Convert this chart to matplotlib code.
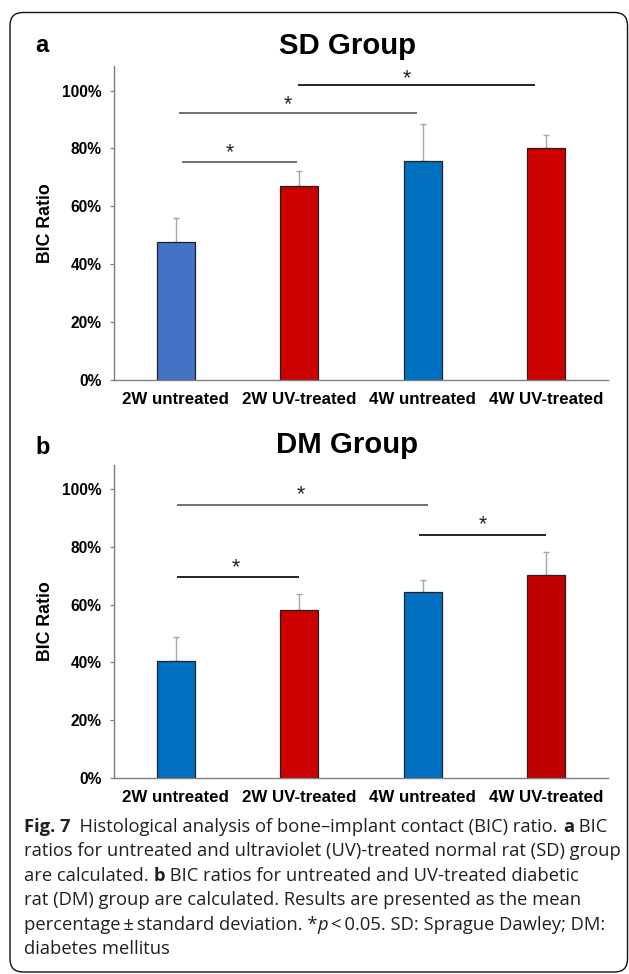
import matplotlib
matplotlib.use("Agg")
import matplotlib.pyplot as plt
from matplotlib.patches import FancyBboxPatch
from matplotlib.transforms import IdentityTransform
from matplotlib.ticker import FuncFormatter

# ---------------- data ----------------
categories = ["2W untreated", "2W UV-treated", "4W untreated", "4W UV-treated"]

sd_means = [47.8, 67.0, 75.6, 80.0]
sd_err = [8.3, 5.1, 12.9, 4.8]
sd_colors = ["#4472C4", "#CC0000", "#0070C0", "#CC0000"]

dm_means = [40.4, 58.2, 64.3, 70.3]
dm_err = [8.2, 5.6, 4.3, 8.1]
dm_colors = ["#0070C0", "#CC0000", "#0070C0", "#C00000"]

# significance lines
sd_sig_x0 = [0.05, 0.03, 0.99]
sd_sig_x1 = [0.98, 1.95, 2.91]
sd_sig_y = [75.3, 92.2, 101.9]
sd_star_x = [0.44, 0.91, 1.87]
sd_star_y = [78.5, 95.1, 104.2]
sd_sig_col = ["#595959", "#595959", "#000000"]

dm_sig_x0 = [0.01, 0.01, 1.97]
dm_sig_x1 = [1.00, 2.04, 3.00]
dm_sig_y = [69.6, 94.5, 84.1]
dm_star_x = [0.49, 1.01, 2.49]
dm_star_y = [72.7, 98.0, 87.7]
dm_sig_col = ["#000000", "#595959", "#000000"]

yticks = [0, 20, 40, 60, 80, 100]

W, H = 629, 974
fig = plt.figure(figsize=(W / 100, H / 100), dpi=100)

ARIAL = "Liberation Sans"


def panel(rect, means, errs, colors, x0s, x1s, ys, sxs, sys_, cols, title, letter, title_y, letter_y):
    ax = fig.add_axes(rect)
    xs = list(range(len(categories)))
    ax.bar(xs, means, width=0.31, color=colors, edgecolor="#222222", linewidth=0.9, zorder=2)
    ax.errorbar(xs, means, yerr=[[0] * len(errs), errs], fmt="none", ecolor="#a6a6a6",
                elinewidth=1.0, capsize=2.2, capthick=1.0, zorder=1)
    for a, b, y, sx, sy, c in zip(x0s, x1s, ys, sxs, sys_, cols):
        ax.plot([a, b], [y, y], color=c, linewidth=1.2, solid_capstyle="butt", zorder=3)
        ax.text(sx, sy, "*", ha="center", va="center", fontsize=15.5, family=ARIAL, color="#222222")
    ax.set_xlim(-0.5, 3.5)
    ax.set_ylim(0, 108.5)
    ax.set_yticks(yticks)
    ax.yaxis.set_major_formatter(FuncFormatter(lambda v, p: f"{int(v)}%"))
    ax.set_xticks(xs)
    ax.set_xticklabels(categories)
    for lab in ax.get_xticklabels() + ax.get_yticklabels():
        lab.set_family(ARIAL)
        lab.set_fontweight("bold")
    for lab in ax.get_xticklabels():
        lab.set_fontsize(12.2)
    for lab in ax.get_yticklabels():
        lab.set_fontsize(11.2)
    ax.tick_params(axis="x", length=0, pad=9)
    ax.tick_params(axis="y", length=3, width=0.9, color="#7f7f7f", pad=6)
    for s in ["top", "right"]:
        ax.spines[s].set_visible(False)
    for s in ["left", "bottom"]:
        ax.spines[s].set_color("#7f7f7f")
        ax.spines[s].set_linewidth(1.0)
    ax.set_ylabel("BIC Ratio", family=ARIAL, fontweight="bold", fontsize=12.8)
    ax.yaxis.set_label_coords(-0.122, 0.5)
    fig.text(347 / W, 1 - title_y / H, title, ha="center", va="center", family=ARIAL,
             fontweight="bold", fontsize=21.2)
    fig.text(35 / W, 1 - letter_y / H, letter, ha="left", va="center", family=ARIAL,
             fontweight="bold", fontsize=17)
    return ax


panel([114 / W, 1 - 380 / H, 494 / W, 314 / H], sd_means, sd_err, sd_colors,
      sd_sig_x0, sd_sig_x1, sd_sig_y, sd_star_x, sd_star_y, sd_sig_col, "SD Group", "a", 46, 46)
panel([114 / W, 1 - 777.7 / H, 494 / W, 313 / H], dm_means, dm_err, dm_colors,
      dm_sig_x0, dm_sig_x1, dm_sig_y, dm_star_x, dm_star_y, dm_sig_col, "DM Group", "b", 445, 447)

# ---------------- frame ----------------
frame = FancyBboxPatch((10, H - 972), 617.5, 972 - 12.5,
                       boxstyle="round,pad=0,rounding_size=13",
                       transform=IdentityTransform(), facecolor="none",
                       edgecolor="#111111", linewidth=1.0)
fig.add_artist(frame)

# ---------------- caption ----------------
CAP = ["Open Sans", "DejaVu Sans"]
CAP_SIZE = 13.2
renderer = fig.canvas.get_renderer()


def seg_width(text, **kw):
    t1 = fig.text(0, 0, "|" + text + "|", fontsize=CAP_SIZE, family=CAP, **kw)
    t2 = fig.text(0, 0, "||", fontsize=CAP_SIZE, family=CAP, **kw)
    w = t1.get_window_extent(renderer).width - t2.get_window_extent(renderer).width
    t1.remove()
    t2.remove()
    return w


caption = [
    [("Fig. 7", "bold", "normal"), ("  Histological analysis of bone\u2013implant contact (BIC) ratio. ", "normal", "normal"),
     ("a", "bold", "normal"), (" BIC", "normal", "normal")],
    [("ratios for untreated and ultraviolet (UV)-treated normal rat (SD) group", "normal", "normal")],
    [("are calculated. ", "normal", "normal"), ("b", "bold", "normal"),
     (" BIC ratios for untreated and UV-treated diabetic", "normal", "normal")],
    [("rat (DM) group are calculated. Results are presented as the mean", "normal", "normal")],
    [("percentage\u2009\u00b1\u2009standard deviation. *", "normal", "normal"), ("p", "normal", "italic"),
     ("\u2009<\u20090.05. SD: Sprague Dawley; DM:", "normal", "normal")],
    [("diabetes mellitus", "normal", "normal")],
]

baseline0 = 831.5
spacing = 24.6
for i, line in enumerate(caption):
    x = 24.0
    yb = baseline0 + i * spacing
    for text, weight, style in line:
        fig.text(x / W, 1 - yb / H, text, fontsize=CAP_SIZE, family=CAP, fontweight=weight,
                 fontstyle=style, ha="left", va="baseline", color="#231f20")
        x += seg_width(text, fontweight=weight, fontstyle=style)

fig.savefig("out.png", dpi=100)
